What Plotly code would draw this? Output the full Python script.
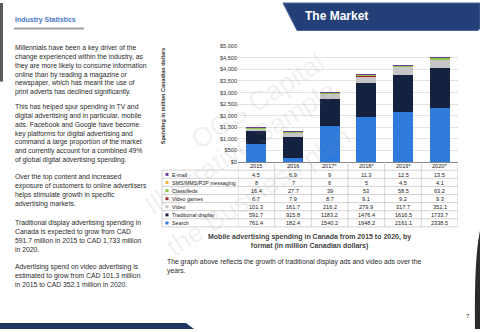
import plotly.graph_objects as go

W, H = 480, 332

years = ["2015", "2016", "2017*", "2018*", "2019*", "2020*"]
series_names = ["E-mail", "SMS/MMS/P2P messaging", "Classifieds", "Video games",
                "Video", "Traditional display", "Search"]
email = [4.5, 6.9, 9, 11.3, 12.5, 13.5]
sms = [8, 7, 6, 5, 4.5, 4.1]
classifieds = [16.4, 27.7, 39, 53, 58.5, 63.2]
video_games = [6.7, 7.9, 8.7, 9.1, 9.2, 9.3]
video = [101.3, 161.7, 216.2, 279.9, 317.7, 352.1]
traditional = [591.7, 915.8, 1183.2, 1476.4, 1616.5, 1733.7]
search = [761.4, 182.4, 1540.2, 1948.2, 2161.1, 2338.5]
series_values = [email, sms, classifieds, video_games, video, traditional, search]
series_colors = ["#6a3d9a", "#f2b33d", "#8dc63f", "#a3201f", "#c6c6c6", "#14223f", "#2f7bdc"]
y_ticks = [0, 500, 1000, 1500, 2000, 2500, 3000, 3500, 4000, 4500, 5000]

FONT = "Arial, Liberation Sans, sans-serif"


def px(x):
    return x / W


def py(y):
    return 1 - y / H


def ann(text, x, y, xref="paper", xanchor="center", yanchor="middle", **kw):
    d = dict(text=text, x=x, y=y, xref=xref, yref="paper", xanchor=xanchor, yanchor=yanchor,
             showarrow=False)
    d.update(kw)
    return d


fig = go.Figure()
# stacked bars: bottom first
for name, vals, col in reversed(list(zip(series_names, series_values, series_colors))):
    fig.add_trace(go.Bar(x=years, y=vals, name=name, marker=dict(color=col, line=dict(width=0)),
                         showlegend=False))

shapes = []
annotations = []

# ---------- watermark ----------
for txt, x, y in [("OGS Capital", 258, 100), ("Illustrative Sample", 240, 148),
                  ("the Business plan", 258, 192)]:
    annotations.append(ann(txt, px(x), py(y), textangle=-33,
                           font=dict(family=FONT, size=27, color="rgba(140,140,140,0.13)")))

# ---------- header ----------
shapes.append(dict(type="path", xref="paper", yref="paper",
                   path=f"M {px(283)} {py(0)} L {px(297)} {py(28)} L {px(478)} {py(28)} L {px(480)} {py(26)} L {px(480)} {py(0)} Z",
                   fillcolor="#233f78", line=dict(color="#4b6699", width=1)))
annotations.append(ann("<b>The Market</b>", px(303), py(13), xanchor="left",
                       font=dict(family=FONT, size=12, color="white")))
annotations.append(ann("<b>Industry Statistics</b>", px(13), py(17), xanchor="left",
                       font=dict(family=FONT, size=7, color="#4a78c8")))
shapes.append(dict(type="line", xref="paper", yref="paper", x0=px(14), x1=px(84), y0=py(26), y1=py(26),
                   line=dict(color="rgba(90,90,90,0.55)", width=2)))
# page edge decorations
shapes.append(dict(type="rect", xref="paper", yref="paper", x0=0, x1=px(3), y0=py(80), y1=1,
                   fillcolor="#5a5a5a", line=dict(width=0)))
shapes.append(dict(type="path", xref="paper", yref="paper",
                   path=f"M 0 {py(326)} L {px(186)} {py(326)} L {px(194)} {py(332)} L 0 0 Z",
                   fillcolor="#1f3763", line=dict(width=0)))
shapes.append(dict(type="path", xref="paper", yref="paper",
                   path=f"M {px(480)} {py(232)} Q {px(474)} {py(260)} {px(475)} {py(332)} L 1 0 Z",
                   fillcolor="#2b2b2b", line=dict(width=0)))

# ---------- left text ----------
paras = [
    (45, "Millennials have been a key driver of the<br>change experienced within the industry, as<br>they are more likely to consume information<br>online than by reading a magazine or<br>newspaper, which has meant the use of<br>print adverts has declined significantly."),
    (105, "This has helped spur spending in TV and<br>digital advertising and in particular, mobile<br>ads. Facebook and Google have become<br>key platforms for digital advertising and<br>command a large proportion of the market<br>and currently account for a combined 49%<br>of global digital advertising spending."),
    (176, "Over the top content and increased<br>exposure of customers to online advertisers<br>helps stimulate growth in specific<br>advertising markets."),
    (223, "Traditional display advertising spending in<br>Canada is expected to grow from CAD<br>591.7 million in 2015 to CAD 1,733 million<br>in 2020."),
    (268, "Advertising spend on video advertising is<br>estimated to grow from CAD 101.3 million<br>in 2015 to CAD 352.1 million in 2020."),
]
for y, t in paras:
    annotations.append(ann(t, px(13), py(y - 5), xanchor="left", yanchor="top", align="left",
                           font=dict(family=FONT, size=6.8, color="#2a2a2a")))

# ---------- chart labels ----------
annotations.append(ann("<b>Spending in million Canadian dollars</b>", px(163), py(95), textangle=-90,
                       font=dict(family=FONT, size=5.5, color="#333")))
annotations.append(ann("<b>Mobile advertising spending in Canada from 2015 to 2020, by<br>format (in million Canadian dollars)</b>",
                       px(309), py(243), align="center", font=dict(family=FONT, size=7, color="#444")))
annotations.append(ann("The graph above reflects the growth of traditional display ads and video ads over the<br>years.",
                       px(165), py(258), xanchor="left", yanchor="top", align="left",
                       font=dict(family=FONT, size=6.8, color="#2a2a2a")))
annotations.append(ann("7", px(468), py(319), font=dict(family=FONT, size=6, color="#333")))

# ---------- data table ----------
T_TOP, T_LEFT, C_LEFT, T_RIGHT = 162, 162, 238, 458
RH = 66 / 8
grid = "#c8c8c8"
for i in range(1, 9):
    yy = T_TOP + i * RH
    shapes.append(dict(type="line", xref="paper", yref="paper", x0=px(T_LEFT), x1=px(T_RIGHT),
                       y0=py(yy), y1=py(yy), line=dict(color=grid, width=0.8)))
shapes.append(dict(type="line", xref="paper", yref="paper", x0=px(T_LEFT), x1=px(T_LEFT),
                   y0=py(T_TOP + RH), y1=py(T_TOP + 8 * RH), line=dict(color=grid, width=0.8)))
for j in range(len(years) + 1):
    shapes.append(dict(type="line", xref="x", yref="paper", x0=j - 0.5, x1=j - 0.5,
                       y0=py(T_TOP), y1=py(T_TOP + 8 * RH), line=dict(color=grid, width=0.8)))

tfont = dict(family=FONT, size=5.6, color="#222")
lfont = dict(family=FONT, size=5.3, color="#222")
for j, yr in enumerate(years):
    annotations.append(ann(yr, j, py(T_TOP + RH / 2 + 0.3), xref="x", font=tfont))
for r, (name, vals, col) in enumerate(zip(series_names, series_values, series_colors)):
    yc = T_TOP + (r + 1.5) * RH + 0.3
    shapes.append(dict(type="rect", xref="paper", yref="paper", x0=px(165.5), x1=px(168.5),
                       y0=py(yc - 1.6), y1=py(yc + 1.4), fillcolor=col, line=dict(width=0)))
    annotations.append(ann(name, px(170), py(yc), xanchor="left", font=lfont))
    for j, v in enumerate(vals):
        annotations.append(ann(f"{v:g}", j, py(yc), xref="x", font=tfont))

fig.update_layout(
    width=W, height=H, margin=dict(l=0, r=0, t=0, b=0),
    paper_bgcolor="white", plot_bgcolor="white",
    barmode="stack", bargap=0.45,
    font=dict(family=FONT),
    xaxis=dict(type="category", categoryorder="array", categoryarray=years,
               range=[-0.5, len(years) - 0.5], autorange=False,
               domain=[px(C_LEFT), px(T_RIGHT)], showticklabels=False, showgrid=False,
               showline=True, linecolor="#888", linewidth=1, ticks=""),
    yaxis=dict(domain=[py(162), py(44)], range=[0, 5000], autorange=False, tickvals=y_ticks,
               ticktext=[f"${v:,}" for v in y_ticks], showgrid=True, gridcolor="#e3e3e3",
               gridwidth=0.8, zeroline=False, tickfont=dict(family=FONT, size=5.6, color="#333"),
               ticks=""),
    shapes=shapes, annotations=annotations,
)

fig.write_html("out.html")
